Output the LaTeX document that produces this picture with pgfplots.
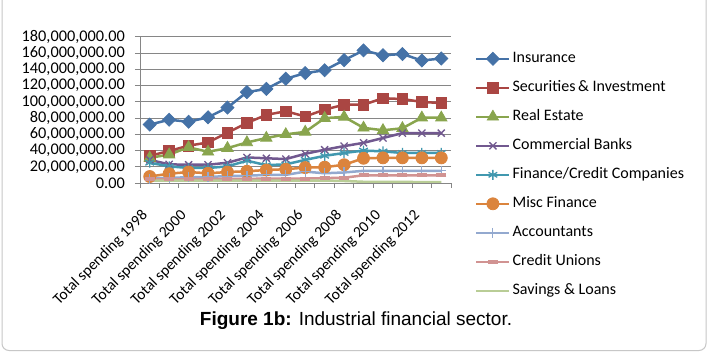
\documentclass[border=0pt]{standalone}
\usepackage{pgfplots}
\pgfplotsset{compat=1.18}
\usepackage{pgfplotstable}
\usepackage{fontspec}
\setmainfont{Carlito}
\newfontfamily\capfont{Liberation Sans}
\definecolor{cIns}{HTML}{4572A7}
\definecolor{cSec}{HTML}{AA4643}
\definecolor{cRE}{HTML}{89A54E}
\definecolor{cCB}{HTML}{71588F}
\definecolor{cFin}{HTML}{4198AF}
\definecolor{cMisc}{HTML}{DB843D}
\definecolor{cAcc}{HTML}{93A9CF}
\definecolor{cCU}{HTML}{D19392}
\definecolor{cSL}{HTML}{B9CD96}
\definecolor{cGrid}{HTML}{868686}

\pgfplotstableread{
x ins sec re cb fin misc acc cu sl
0 72000000 33500000 31000000 28500000 25000000 8000000 5500000 4500000 3000000
1 78000000 39500000 35000000 23000000 20500000 11500000 6500000 4500000 3000000
2 75500000 46000000 44000000 22500000 18500000 13500000 7000000 4500000 3000000
3 81000000 50000000 38500000 22500000 18500000 12000000 7500000 5000000 3000000
4 93000000 62000000 43000000 25000000 20500000 13500000 8500000 5000000 3000000
5 112000000 74000000 50000000 31500000 27500000 14500000 9000000 5000000 3000000
6 116000000 84000000 55500000 30500000 22000000 16000000 10000000 5500000 3000000
7 128500000 88500000 60000000 29500000 23000000 17000000 10000000 5500000 3000000
8 135500000 82000000 63000000 36000000 28500000 19000000 14000000 5500000 3000000
9 139000000 90500000 80000000 41000000 33500000 19500000 12000000 6000000 3000000
10 151500000 96500000 81500000 45500000 37000000 22500000 13000000 6500000 2500000
11 163500000 96500000 68000000 49500000 40000000 30500000 15000000 9500000 1500000
12 157500000 104500000 65000000 55500000 39000000 31000000 15000000 9500000 1500000
13 159000000 103500000 67500000 61500000 37000000 31000000 15000000 9500000 1500000
14 151000000 100000000 80500000 61500000 37000000 31000000 15000000 9500000 1000000
15 153500000 98500000 80500000 61500000 37000000 31000000 15000000 9500000 1000000
}\data

\begin{document}
\begin{tikzpicture}
\useasboundingbox (0,0) rectangle (708bp,352bp);
\fill[white] (0,0) rectangle (708bp,352bp);
\draw[black!22, line width=1bp, rounded corners=7bp] (2bp,352bp) -- (2bp,1.5bp) -- (706bp,1.5bp) -- (706bp,352bp);
\begin{axis}[
  at={(140bp,169bp)}, anchor=south west,
  width=311bp, height=146bp, scale only axis,
  xmin=-0.5, xmax=15.5, ymin=0, ymax=180000000,
  axis lines=left,
  axis line style={-, draw=cGrid, line width=1bp},
  ytick={0,20000000,40000000,60000000,80000000,100000000,120000000,140000000,160000000,180000000},
  scaled y ticks=false,
  ymajorgrids, major grid style={draw=cGrid, line width=1bp},
  tick align=outside,
  major tick length=5bp, minor tick length=5bp,
  tick style={draw=cGrid, line width=1bp},
  xtick={0,2,...,14},
  xticklabels={Total spending 1998,Total spending 2000,Total spending 2002,Total spending 2004,Total spending 2006,Total spending 2008,Total spending 2010,Total spending 2012},
  major x tick style={draw=none},
  minor xtick={-0.5,0.5,...,15.5},
  tick label style={font=\fontsize{16.3bp}{19bp}\selectfont},
  xticklabel style={rotate=45, anchor=north east, inner sep=0pt, yshift=-8bp, xshift=-21bp, font=\fontsize{15.5bp}{18bp}\selectfont},
  yticklabel style={/pgf/number format/fixed, /pgf/number format/fixed zerofill, /pgf/number format/precision=2, /pgf/number format/1000 sep={,}, /pgf/number format/assume math mode=true, inner sep=0pt, xshift=-10bp},
  legend style={at={(1.077,0.90)}, anchor=north west, draw=none, fill=none, inner sep=0pt,
    font=\fontsize{16bp}{19bp}\selectfont, row sep=15bp,
    nodes={text height=11bp, text depth=3bp, inner ysep=0pt, inner xsep=2bp}},
  legend cell align=left,
  legend image code/.code={\draw[mark repeat=2,mark phase=2,#1] plot coordinates {(0bp,0bp) (16.5bp,0bp) (33bp,0bp)};},
  every axis plot/.append style={line width=2.5bp},
]
\addplot[cIns, mark=square*, mark size=4.6bp, mark options={solid, rotate=45, fill=cIns, line width=0.8bp}] table[x=x,y=ins]{\data};
\addlegendentry{Insurance}
\addplot[cSec, mark=square*, mark size=5.3bp, mark options={solid, fill=cSec, line width=0.8bp}] table[x=x,y=sec]{\data};
\addlegendentry{Securities\,\& Investment}
\addplot[cRE, mark=triangle*, mark size=6.5bp, mark options={solid, fill=cRE, line width=0.8bp}] table[x=x,y=re]{\data};
\addlegendentry{Real Estate}
\addplot[cCB, mark=x, mark size=5bp, mark options={solid, line width=1.3bp}] table[x=x,y=cb]{\data};
\addlegendentry{Commercial Banks}
\addplot[cFin, mark=asterisk, mark size=5bp, mark options={solid, line width=1.3bp}] table[x=x,y=fin]{\data};
\addlegendentry{Finance/Credit Companies}
\addplot[cMisc, mark=*, mark size=6bp, mark options={solid, fill=cMisc, line width=0.8bp}] table[x=x,y=misc]{\data};
\addlegendentry{Misc Finance}
\addplot[cAcc, mark=+, mark size=5bp, mark options={solid, line width=1.2bp}] table[x=x,y=acc]{\data};
\addlegendentry{Accountants}
\addplot[cCU, mark=-, mark size=5bp, mark options={solid, line width=4bp}] table[x=x,y=cu]{\data};
\addlegendentry{Credit Unions}
\addplot[cSL, no marks] table[x=x,y=sl]{\data};
\addlegendentry{Savings \& Loans}
\end{axis}
\node[font=\capfont\fontsize{19bp}{22bp}\selectfont] at (356bp,31bp) {\textbf{Figure 1b:} Industrial financial sector.};
\end{tikzpicture}
\end{document}
